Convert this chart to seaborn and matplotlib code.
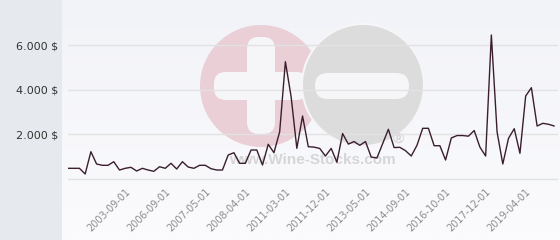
import numpy as np
import pandas as pd
import matplotlib
matplotlib.use("Agg")
import matplotlib.pyplot as plt
import seaborn as sns
from matplotlib.patches import Circle, FancyBboxPatch, Rectangle
from matplotlib.colors import LinearSegmentedColormap

# ---- data ----
values = [467, 467, 467, 211, 1213, 660, 602, 602, 764, 391,
          467, 512, 346, 467, 391, 332, 539, 467, 692, 436,
          764, 526, 467, 602, 602, 449, 391, 391, 1065, 1168,
          692, 692, 1290, 1290, 616, 1546, 1168, 2112, 5258, 3685,
          1366, 2818, 1438, 1420, 1360, 1020, 1360, 740, 2030, 1555,
          1670, 1500, 1670, 975, 930, 1575, 2220, 1400, 1411, 1258,
          1020, 1500, 2265, 2265, 1483, 1483, 840, 1830, 1940, 1940,
          1912, 2165, 1420, 1020, 6458, 2100, 660, 1815, 2247, 1141,
          3717, 4090, 2368, 2490, 2445, 2368]
tick_labels = ["2003-09-01", "2006-09-01", "2007-05-01", "2008-04-01",
               "2011-03-01", "2011-12-01", "2013-05-01", "2014-09-01",
               "2016-10-01", "2017-12-01", "2019-04-01"]
tick_index = [10, 17, 24, 31, 38, 45, 52, 59, 66, 73, 80]
y_ticks = [0, 2000, 4000, 6000]
y_tick_labels = ["", "2.000 $", "4.000 $", "6.000 $"]

df = pd.DataFrame({"i": np.arange(len(values)), "value": values})

sns.set_style("white")
plt.rcParams["font.family"] = ["DejaVu Sans"]

fig = plt.figure(figsize=(5.6, 2.4), dpi=100)
fig.patch.set_facecolor("white")

# background + watermark layer (pixel coordinates)
bg = fig.add_axes([0, 0, 1, 1], zorder=0)
grad = LinearSegmentedColormap.from_list("g", ["#f2f3f8", "#fbfbfd"])
bg.imshow(np.linspace(0, 1, 100)[:, None], extent=(62, 560, 240, 0),
          cmap=grad, aspect="auto", interpolation="bilinear")
bg.add_patch(Rectangle((0, 0), 62, 240, color="#e6e9ed", lw=0))
bg.add_patch(Circle((261, 86), 61, color="#eacfd7", lw=0))
bg.add_patch(FancyBboxPatch((247, 37), 28, 97,
                            boxstyle="round,pad=0,rounding_size=12", color="#f6f6f9", lw=0))
bg.add_patch(FancyBboxPatch((214, 72), 94, 28,
                            boxstyle="round,pad=0,rounding_size=12", color="#f6f6f9", lw=0))
bg.add_patch(Circle((363, 85), 61, facecolor="#dcdcdc", edgecolor="#f6f6f9", lw=1.5))
bg.add_patch(FancyBboxPatch((315, 73), 94, 26,
                            boxstyle="round,pad=0,rounding_size=13",
                            color="#f6f6f9", lw=0))
bg.text(312, 160, "www.Wine-Stocks.com", family="Liberation Sans", weight="bold",
        fontsize=11, color="#d6d6d6", ha="center", va="center")
bg.text(398, 139, "®", family="Liberation Sans", weight="bold",
        fontsize=11, color="#d6d6d6", ha="center", va="center")
bg.set_xlim(0, 560)
bg.set_ylim(240, 0)
bg.axis("off")

# main chart
ax = fig.add_axes([68 / 560, 59 / 240, 490 / 560, 181 / 240], zorder=2)
ax.patch.set_alpha(0)
sns.lineplot(data=df, x="i", y="value", ax=ax, color="#3a1e2e", linewidth=1.0)
ax.set_xlim(0, 85.65)
ax.set_ylim(-103, 8031)
ax.set_yticks(y_ticks, y_tick_labels)
ax.set_xticks(tick_index, tick_labels, rotation=45, ha="right",
              rotation_mode="anchor")
ax.grid(axis="y", color="#e2e2e2", lw=1)
ax.grid(axis="x", visible=False)
for s in ax.spines.values():
    s.set_visible(False)
ax.tick_params(axis="y", length=0, pad=7, labelsize=8, labelcolor="#333333")
ax.tick_params(axis="x", length=0, pad=4, labelsize=7, labelcolor="#8c8c8c")
ax.set_xlabel("")
ax.set_ylabel("")

fig.savefig("out.png", dpi=100)
